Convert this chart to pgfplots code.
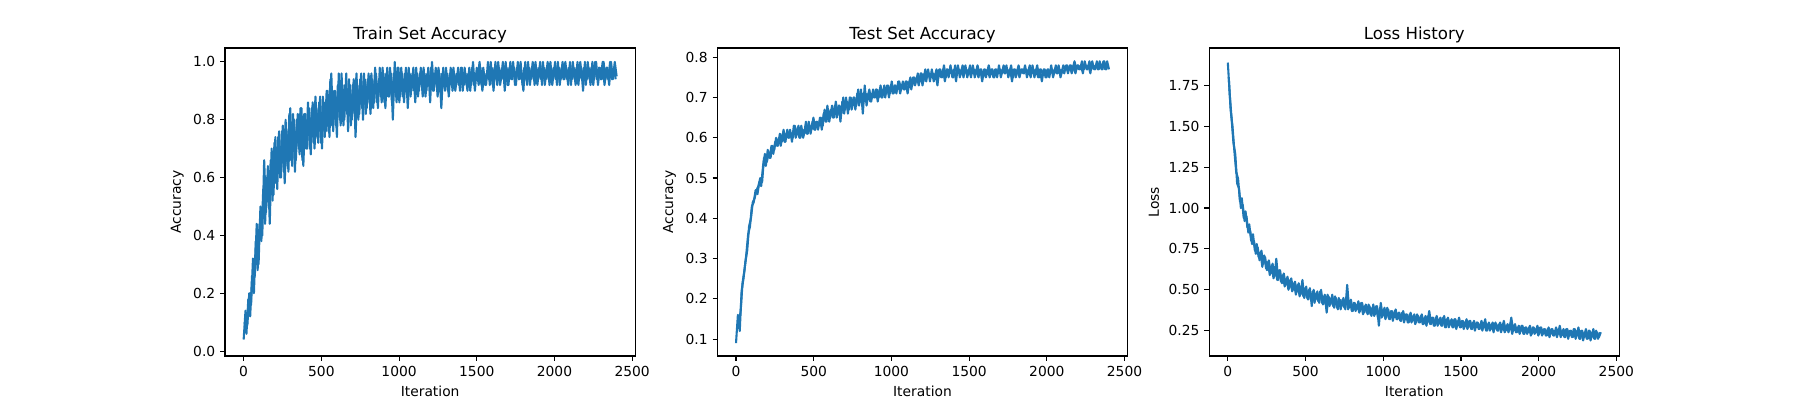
\documentclass[border=0pt]{standalone}
\usepackage{fontspec}
\setmainfont{DejaVu Sans}
\usepackage{pgfplots}
\usepackage{pgfplotstable}
\pgfplotsset{compat=1.18}
\definecolor{mplblue}{HTML}{1F77B4}
\pgfplotstableread{
it train test loss
0 0.04 0.09 1.89
12 0.14 0.16 1.70
24 0.09 0.12 1.55
36 0.20 0.22 1.40
48 0.16 0.25 1.33
60 0.32 0.29 1.15
72 0.26 0.32 1.12
84 0.44 0.38 1.00
96 0.30 0.40 1.02
108 0.50 0.44 0.92
120 0.40 0.45 0.95
132 0.66 0.47 0.85
144 0.48 0.48 0.86
156 0.64 0.50 0.78
168 0.44 0.49 0.80
180 0.70 0.55 0.72
192 0.54 0.53 0.76
204 0.74 0.57 0.68
216 0.56 0.55 0.74
228 0.76 0.58 0.66
240 0.60 0.56 0.70
252 0.78 0.59 0.62
264 0.58 0.58 0.68
276 0.76 0.60 0.60
288 0.62 0.58 0.66
300 0.84 0.61 0.58
312 0.64 0.59 0.69
324 0.80 0.61 0.56
336 0.66 0.60 0.62
348 0.82 0.62 0.54
360 0.68 0.59 0.60
372 0.84 0.63 0.53
384 0.64 0.60 0.58
396 0.82 0.62 0.51
408 0.70 0.60 0.57
420 0.84 0.63 0.50
432 0.68 0.60 0.55
444 0.86 0.62 0.49
456 0.70 0.61 0.54
468 0.84 0.64 0.47
480 0.72 0.61 0.56
492 0.88 0.64 0.45
504 0.70 0.62 0.52
516 0.86 0.64 0.44
528 0.76 0.62 0.51
540 0.90 0.65 0.40
552 0.74 0.62 0.50
564 0.96 0.66 0.44
576 0.76 0.64 0.49
588 0.90 0.68 0.42
600 0.74 0.64 0.50
612 0.96 0.67 0.41
624 0.78 0.65 0.47
636 0.92 0.68 0.36
648 0.80 0.65 0.46
660 0.96 0.68 0.41
672 0.76 0.64 0.47
684 0.92 0.69 0.39
696 0.80 0.66 0.45
708 0.94 0.70 0.38
720 0.74 0.66 0.44
732 0.92 0.70 0.40
744 0.82 0.67 0.45
756 0.96 0.70 0.38
768 0.80 0.67 0.53
780 0.94 0.71 0.39
792 0.84 0.68 0.44
804 0.96 0.72 0.37
816 0.82 0.66 0.42
828 0.94 0.73 0.38
840 0.86 0.68 0.43
852 0.96 0.71 0.37
864 0.84 0.69 0.42
876 0.98 0.71 0.36
888 0.86 0.70 0.41
900 0.96 0.72 0.35
912 0.84 0.69 0.40
924 0.98 0.72 0.34
936 0.88 0.70 0.41
948 0.96 0.72 0.35
960 0.80 0.70 0.40
972 1.00 0.73 0.28
984 0.86 0.70 0.42
996 0.98 0.73 0.34
1008 0.88 0.71 0.39
1020 0.96 0.73 0.33
1032 0.86 0.71 0.38
1044 0.98 0.74 0.32
1056 0.84 0.71 0.37
1068 0.96 0.73 0.33
1080 0.90 0.72 0.38
1092 0.98 0.74 0.32
1104 0.86 0.71 0.36
1116 0.96 0.74 0.31
1128 0.90 0.72 0.37
1140 0.98 0.75 0.32
1152 0.88 0.73 0.35
1164 0.96 0.75 0.30
1176 0.90 0.73 0.36
1188 0.98 0.76 0.31
1200 0.86 0.73 0.35
1212 1.00 0.76 0.30
1224 0.90 0.74 0.34
1236 0.98 0.77 0.30
1248 0.88 0.74 0.35
1260 0.96 0.77 0.29
1272 0.84 0.74 0.34
1284 0.98 0.76 0.30
1296 0.90 0.73 0.37
1308 0.96 0.77 0.29
1320 0.88 0.75 0.33
1332 0.98 0.77 0.28
1344 0.90 0.74 0.34
1356 0.96 0.77 0.29
1368 0.92 0.75 0.33
1380 0.98 0.78 0.28
1392 0.90 0.75 0.34
1404 0.98 0.77 0.27
1416 0.92 0.74 0.33
1428 0.96 0.78 0.29
1440 0.90 0.75 0.32
1452 0.98 0.77 0.27
1464 0.92 0.75 0.32
1476 1.00 0.78 0.28
1488 0.90 0.75 0.33
1500 0.98 0.77 0.27
1512 0.92 0.75 0.31
1524 0.98 0.78 0.28
1536 0.90 0.75 0.32
1548 0.96 0.77 0.27
1560 0.92 0.75 0.31
1572 1.00 0.77 0.26
1584 0.92 0.74 0.31
1596 0.98 0.77 0.27
1608 0.90 0.75 0.30
1620 1.00 0.77 0.26
1632 0.92 0.75 0.31
1644 0.98 0.77 0.27
1656 0.94 0.75 0.32
1668 1.00 0.77 0.25
1680 0.90 0.75 0.30
1692 0.98 0.78 0.26
1704 0.92 0.75 0.30
1716 1.00 0.77 0.26
1728 0.94 0.76 0.29
1740 0.98 0.78 0.25
1752 0.92 0.75 0.30
1764 1.00 0.77 0.26
1776 0.94 0.74 0.31
1788 0.96 0.77 0.25
1800 0.90 0.75 0.29
1812 1.00 0.77 0.26
1824 0.92 0.75 0.33
1836 0.98 0.77 0.25
1848 0.94 0.76 0.29
1860 1.00 0.78 0.24
1872 0.92 0.75 0.28
1884 0.98 0.77 0.25
1896 0.94 0.75 0.28
1908 1.00 0.78 0.23
1920 0.92 0.75 0.27
1932 0.98 0.77 0.24
1944 0.94 0.75 0.28
1956 1.00 0.77 0.23
1968 0.92 0.74 0.27
1980 0.98 0.77 0.24
1992 0.94 0.75 0.28
2004 1.00 0.77 0.23
2016 0.92 0.75 0.27
2028 0.98 0.78 0.23
2040 0.94 0.75 0.26
2052 1.00 0.77 0.22
2064 0.94 0.76 0.27
2076 0.98 0.78 0.23
2088 0.92 0.75 0.26
2100 1.00 0.77 0.22
2112 0.94 0.76 0.27
2124 0.98 0.78 0.23
2136 0.92 0.76 0.28
2148 1.00 0.78 0.22
2160 0.94 0.76 0.26
2172 0.98 0.78 0.21
2184 0.90 0.76 0.26
2196 1.00 0.78 0.22
2208 0.94 0.77 0.25
2220 0.98 0.78 0.21
2232 0.92 0.76 0.26
2244 1.00 0.79 0.22
2256 0.94 0.77 0.27
2268 1.00 0.78 0.20
2280 0.92 0.76 0.25
2292 0.98 0.79 0.21
2304 0.94 0.77 0.26
2316 1.00 0.78 0.20
2328 0.94 0.77 0.25
2340 0.98 0.79 0.21
2352 0.92 0.77 0.26
2364 1.00 0.79 0.20
2376 0.94 0.77 0.24
2388 1.00 0.79 0.21
2400 0.95 0.77 0.24
}\datatable
\pgfplotstableread{
it train test loss
6 0.10 0.13 1.80
18 0.06 0.14 1.60
30 0.18 0.17 1.50
42 0.12 0.24 1.35
54 0.26 0.27 1.22
66 0.20 0.31 1.18
78 0.38 0.36 1.04
90 0.28 0.38 1.06
102 0.44 0.43 0.94
114 0.38 0.44 0.98
126 0.56 0.47 0.88
138 0.44 0.46 0.90
150 0.60 0.49 0.80
162 0.50 0.48 0.84
174 0.66 0.53 0.74
186 0.52 0.56 0.78
198 0.72 0.54 0.70
210 0.58 0.56 0.73
222 0.74 0.55 0.64
234 0.60 0.58 0.71
246 0.76 0.57 0.63
258 0.62 0.60 0.67
270 0.80 0.58 0.59
282 0.64 0.61 0.65
294 0.82 0.59 0.57
306 0.66 0.62 0.63
318 0.82 0.59 0.56
330 0.62 0.62 0.62
342 0.80 0.60 0.55
354 0.70 0.61 0.59
366 0.84 0.60 0.52
378 0.66 0.63 0.57
390 0.82 0.61 0.50
402 0.70 0.63 0.56
414 0.86 0.60 0.49
426 0.70 0.62 0.54
438 0.84 0.61 0.47
450 0.72 0.64 0.53
462 0.88 0.61 0.46
474 0.74 0.63 0.52
486 0.86 0.62 0.46
498 0.72 0.65 0.51
510 0.88 0.62 0.45
522 0.74 0.64 0.50
534 0.90 0.63 0.44
546 0.76 0.65 0.49
558 0.94 0.63 0.42
570 0.78 0.67 0.48
582 0.90 0.64 0.43
594 0.78 0.67 0.49
606 0.92 0.65 0.42
618 0.80 0.68 0.46
630 0.96 0.65 0.41
642 0.78 0.69 0.47
654 0.92 0.66 0.40
666 0.82 0.68 0.45
678 0.94 0.66 0.40
690 0.78 0.70 0.46
702 0.92 0.67 0.39
714 0.82 0.69 0.45
726 0.96 0.67 0.38
738 0.80 0.70 0.44
750 0.94 0.68 0.39
762 0.84 0.70 0.45
774 0.96 0.68 0.38
786 0.82 0.72 0.43
798 0.94 0.69 0.37
810 0.86 0.71 0.42
822 0.96 0.69 0.37
834 0.84 0.71 0.41
846 0.98 0.70 0.36
858 0.86 0.72 0.42
870 0.94 0.69 0.35
882 0.88 0.72 0.40
894 0.98 0.70 0.36
906 0.86 0.72 0.41
918 0.96 0.70 0.35
930 0.88 0.73 0.39
942 0.98 0.70 0.34
954 0.86 0.73 0.40
966 0.96 0.71 0.33
978 0.88 0.73 0.39
990 0.98 0.71 0.33
1002 0.86 0.74 0.38
1014 0.98 0.71 0.32
1026 0.88 0.73 0.39
1038 0.96 0.72 0.32
1050 0.90 0.74 0.37
1062 0.98 0.72 0.31
1074 0.88 0.74 0.37
1086 0.96 0.72 0.32
1098 0.90 0.74 0.36
1110 0.98 0.73 0.31
1122 0.88 0.75 0.36
1134 0.96 0.73 0.30
1146 0.92 0.75 0.35
1158 0.98 0.74 0.30
1170 0.88 0.76 0.35
1182 0.96 0.74 0.30
1194 0.92 0.76 0.34
1206 0.98 0.74 0.29
1218 0.90 0.77 0.35
1230 0.96 0.75 0.30
1242 0.92 0.76 0.34
1254 0.98 0.75 0.29
1266 0.90 0.76 0.33
1278 0.96 0.75 0.28
1290 0.92 0.77 0.34
1302 0.98 0.75 0.29
1314 0.90 0.77 0.33
1326 0.96 0.75 0.28
1338 0.92 0.78 0.33
1350 0.98 0.75 0.28
1362 0.90 0.77 0.32
1374 0.96 0.76 0.28
1386 0.92 0.77 0.33
1398 0.98 0.75 0.27
1410 0.90 0.78 0.32
1422 0.98 0.76 0.27
1434 0.92 0.77 0.31
1446 0.96 0.76 0.27
1458 0.90 0.78 0.32
1470 0.98 0.76 0.26
1482 0.92 0.77 0.31
1494 0.96 0.76 0.27
1506 0.94 0.78 0.31
1518 1.00 0.76 0.26
1530 0.92 0.77 0.30
1542 0.98 0.76 0.26
1554 0.92 0.78 0.31
1566 0.96 0.76 0.26
1578 0.94 0.77 0.30
1590 1.00 0.75 0.25
1602 0.92 0.77 0.30
1614 0.98 0.76 0.26
1626 0.94 0.78 0.29
1638 1.00 0.76 0.25
1650 0.92 0.77 0.30
1662 0.96 0.75 0.25
1674 0.94 0.77 0.29
1686 1.00 0.76 0.25
1698 0.92 0.77 0.29
1710 0.98 0.76 0.24
1722 0.94 0.78 0.30
1734 1.00 0.76 0.25
1746 0.92 0.77 0.29
1758 0.98 0.76 0.24
1770 0.94 0.78 0.28
1782 1.00 0.75 0.24
1794 0.92 0.77 0.28
1806 0.98 0.76 0.24
1818 0.94 0.78 0.29
1830 1.00 0.76 0.23
1842 0.92 0.77 0.28
1854 0.98 0.76 0.24
1866 0.94 0.77 0.27
1878 1.00 0.76 0.23
1890 0.92 0.78 0.28
1902 0.98 0.76 0.23
1914 0.94 0.77 0.27
1926 1.00 0.76 0.23
1938 0.92 0.78 0.27
1950 0.98 0.75 0.22
1962 0.94 0.77 0.27
1974 1.00 0.76 0.23
1986 0.92 0.77 0.26
1998 0.98 0.75 0.22
2010 0.94 0.77 0.27
2022 1.00 0.76 0.22
2034 0.92 0.77 0.26
2046 0.98 0.76 0.22
2058 0.94 0.78 0.26
2070 1.00 0.76 0.21
2082 0.94 0.77 0.26
2094 0.98 0.76 0.22
2106 0.92 0.78 0.25
2118 1.00 0.77 0.21
2130 0.94 0.78 0.26
2142 0.98 0.77 0.21
2154 0.92 0.78 0.25
2166 1.00 0.77 0.21
2178 0.94 0.79 0.26
2190 0.98 0.77 0.20
2202 0.92 0.78 0.25
2214 1.00 0.77 0.21
2226 0.94 0.79 0.26
2238 0.98 0.77 0.20
2250 0.92 0.78 0.25
2262 1.00 0.77 0.20
2274 0.94 0.79 0.25
2286 0.98 0.77 0.19
2298 0.94 0.78 0.24
2310 1.00 0.77 0.20
2322 0.92 0.79 0.25
2334 0.98 0.77 0.19
2346 0.94 0.78 0.24
2358 1.00 0.77 0.20
2370 0.94 0.79 0.25
2382 0.98 0.77 0.20
2394 0.94 0.78 0.24
}\datatableB

\pgfplotsset{
  mpl/.style={
    scale only axis, width=295.4bp, height=221.76bp, anchor=south west,
    xmin=-120, xmax=2520, xtick={0,500,1000,1500,2000,2500},
    axis line style={line width=0.8bp, black},
    every tick/.style={line width=0.8bp, black},
    tick align=outside, major tick length=3.5bp,
    xtick pos=left, ytick pos=left,
    ticklabel style={font=\fontsize{10}{12}\selectfont},
    /pgf/number format/assume math mode=true,
    /pgf/number format/1000 sep={},
    label style={font=\fontsize{10}{12}\selectfont},
    title style={font=\fontsize{12}{14}\selectfont, at={(0.5,1)}, anchor=base},
    xlabel=Iteration,
  },
  mplline/.style={mplblue, line width=1.5bp, mark=none, line join=round},
}

\begin{document}
\begin{tikzpicture}
\useasboundingbox (0,0) rectangle (1296bp,288bp);
\begin{axis}[mpl, at={(162bp,31.68bp)}, title={Train Set Accuracy}, ylabel={Accuracy},
  ymin=-0.017, ymax=1.048, ytick={0,0.2,0.4,0.6,0.8,1},
  yticklabel style={/pgf/number format/.cd, fixed, fixed zerofill, precision=1}]
\addplot[mplline] table[x=it, y=train]{\datatable};
\addplot[mplline] table[x=it, y=train]{\datatableB};
\end{axis}
\begin{axis}[mpl, at={(516.5bp,31.68bp)}, title={Test Set Accuracy}, ylabel={Accuracy},
  ymin=0.058, ymax=0.823, ytick={0.1,0.2,0.3,0.4,0.5,0.6,0.7,0.8},
  yticklabel style={/pgf/number format/.cd, fixed, fixed zerofill, precision=1}]
\addplot[mplline] table[x=it, y=test]{\datatable};
\addplot[mplline] table[x=it, y=test]{\datatableB};
\end{axis}
\begin{axis}[mpl, at={(870.6bp,31.68bp)}, title={Loss History}, ylabel={Loss},
  ymin=0.095, ymax=1.979, ytick={0.25,0.5,0.75,1,1.25,1.5,1.75},
  yticklabel style={/pgf/number format/.cd, fixed, fixed zerofill, precision=2}]
\addplot[mplline] table[x=it, y=loss]{\datatable};
\addplot[mplline] table[x=it, y=loss]{\datatableB};
\end{axis}
\end{tikzpicture}
\end{document}
